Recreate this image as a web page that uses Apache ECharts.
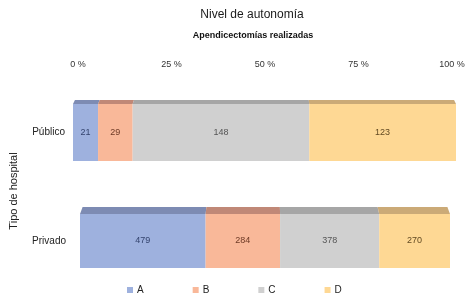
<!DOCTYPE html>
<html>
<head>
<meta charset="utf-8">
<script src="https://cdn.jsdelivr.net/npm/echarts@6/dist/echarts.min.js"></script>
<style>
  html, body { margin: 0; padding: 0; background: #fff; }
  #chart { width: 475px; height: 306px; }
</style>
</head>
<body>
<div id="chart"></div>
<script>
// datos
var categories = ['Público', 'Privado'];
var seriesNames = ['A', 'B', 'C', 'D'];
var valuesA = [21, 479];
var valuesB = [29, 284];
var valuesC = [148, 378];
var valuesD = [123, 270];
var tickLabels = ['0 %', '25 %', '50 %', '75 %', '100 %'];

var allValues = [valuesA, valuesB, valuesC, valuesD];
var frontColors = ['#9eb1de', '#f9b899', '#d0d0d0', '#fed894'];
var topColors = ['#7d8bb3', '#c08877', '#a6a6a6', '#cbaa77'];
var labelColors = ['#34446e', '#6e3a26', '#555555', '#624a22'];
var font = "'Liberation Sans', Arial, sans-serif";

// perspectiva de cada barra
var depth = [4, 7];
var shrink = [0.99, 0.986];

function makeRender(s, g) {
    return function (params, api) {
        var p0 = api.coord([api.value(0), 0]);
        var p1 = api.coord([api.value(1), 0]);
        var h = api.size([0, 1])[1];
        var top = p0[1] - h / 2;
        var cs = params.coordSys;
        var cx = cs.x + cs.width / 2;
        var t0 = cx + (p0[0] - cx) * shrink[g];
        var t1 = cx + (p1[0] - cx) * shrink[g];
        return {
            type: 'group',
            children: [{
                type: 'rect',
                shape: {x: p0[0], y: top, width: p1[0] - p0[0], height: h},
                style: {fill: frontColors[s]}
            }, {
                type: 'polygon',
                shape: {points: [[t0, top - depth[g]], [t1, top - depth[g]], [p1[0], top], [p0[0], top]]},
                style: {fill: topColors[s]}
            }, {
                type: 'text',
                x: (p0[0] + p1[0]) / 2,
                y: top + h / 2,
                style: {
                    text: String(api.value(2)),
                    fill: labelColors[s],
                    font: '9px ' + font,
                    align: 'center',
                    verticalAlign: 'middle'
                }
            }]
        };
    };
}

var series = [];
for (var g = 0; g < categories.length; g++) {
    var total = 0;
    for (var s = 0; s < allValues.length; s++) total += allValues[s][g];
    var acc = 0;
    for (var s = 0; s < allValues.length; s++) {
        var v = allValues[s][g];
        var start = acc / total * 100;
        acc += v;
        var end = acc / total * 100;
        series.push({
            name: seriesNames[s],
            type: 'custom',
            xAxisIndex: g + 1,
            yAxisIndex: g + 1,
            itemStyle: {color: frontColors[s]},
            encode: {x: [0, 1], y: 3},
            renderItem: makeRender(s, g),
            data: [[start, end, v, 0]]
        });
    }
}

var hiddenValueAxis = function (idx) {
    return {type: 'value', gridIndex: idx, min: 0, max: 100, show: false};
};

var myChart = echarts.init(document.getElementById('chart'));
var option = {
    animation: false,
    textStyle: {fontFamily: font},
    title: [{
        text: 'Nivel de autonomía',
        left: 252,
        top: 9,
        padding: 0,
        textAlign: 'center',
        textStyle: {fontSize: 12, fontWeight: 'normal', color: '#1a1a1a', fontFamily: font}
    }, {
        text: 'Apendicectomías realizadas',
        left: 253,
        top: 31,
        padding: 0,
        textAlign: 'center',
        textStyle: {fontSize: 9, fontWeight: 'bold', color: '#111', fontFamily: font}
    }],
    legend: {
        data: seriesNames,
        left: 122,
        top: 280,
        itemWidth: 6,
        itemHeight: 6,
        itemGap: 49,
        icon: 'rect',
        textStyle: {fontSize: 10, color: '#222', padding: [0, 0, 0, -1]}
    },
    grid: [
        {left: 78, right: 23, top: 96, bottom: 20},
        {left: 73, right: 19, top: 104, height: 57},
        {left: 80, right: 25, top: 214, height: 54}
    ],
    xAxis: [{
        type: 'value',
        gridIndex: 0,
        position: 'top',
        min: 0,
        max: 100,
        interval: 25,
        axisLine: {show: false},
        axisTick: {show: false},
        splitLine: {show: false},
        axisLabel: {
            margin: 27,
            fontSize: 9,
            color: '#333',
            formatter: function (val) { return tickLabels[Math.round(val / 25)]; }
        }
    }, hiddenValueAxis(1), hiddenValueAxis(2)],
    yAxis: [{
        type: 'value',
        gridIndex: 0,
        name: 'Tipo de hospital',
        nameLocation: 'middle',
        nameRotate: 90,
        nameGap: 59,
        nameTextStyle: {fontSize: 11, color: '#222'},
        axisLine: {show: false},
        axisTick: {show: false},
        axisLabel: {show: false},
        splitLine: {show: false}
    }, {
        type: 'category',
        gridIndex: 1,
        data: [categories[0]],
        axisLine: {show: false},
        axisTick: {show: false},
        axisLabel: {fontSize: 10, color: '#222', margin: 8}
    }, {
        type: 'category',
        gridIndex: 2,
        data: [categories[1]],
        axisLine: {show: false},
        axisTick: {show: false},
        axisLabel: {fontSize: 10, color: '#222', margin: 14}
    }],
    series: series
};
myChart.setOption(option);
</script>
</body>
</html>
